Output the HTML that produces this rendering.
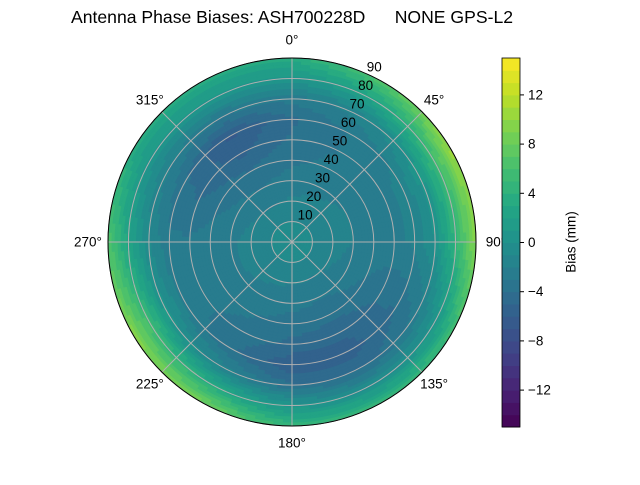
<!DOCTYPE html>
<html><head><meta charset="utf-8">
<style>
body{margin:0;background:#fff;}
svg text{font-family:"Liberation Sans","DejaVu Sans",sans-serif;fill:#000;}
</style></head>
<body>
<svg id="chart" width="640" height="480" xmlns="http://www.w3.org/2000/svg">
<rect width="640" height="480" fill="#fff"/>
<text x="292" y="23" font-size="17.6" text-anchor="middle" style="white-space:pre">Antenna Phase Biases: ASH700228D      NONE GPS-L2</text>
<g id="field"></g>
<g id="grid"></g>
<g id="labels"></g>
<g id="cbar"></g>
</svg>
<script>
const azimuths=[0,30,60,90,120,150,180,210,240,270,300,330];
const zeniths=[0,10,20,30,40,50,60,70,80,90];
const bias0=[-0.5,-0.5,-0.5,-0.5,-0.5,-0.5,-0.5,-0.5,-0.5,-0.5,-0.5,-0.5];
const bias10=[-1,-1,-1,-1,-1,-1,-1,-1,-1,-1,-1,-1];
const bias20=[-1.8,-1.7,-1.5,-1.5,-1.8,-2,-1.9,-1.8,-1.6,-1.6,-1.9,-2.1];
const bias30=[-2.6,-2.3,-2,-2,-2.5,-2.9,-2.7,-2.4,-2.2,-2.2,-2.7,-3];
const bias40=[-3.2,-2.7,-2.3,-2.3,-3.1,-3.7,-3.4,-2.9,-2.5,-2.5,-3.4,-3.9];
const bias50=[-3.8,-2.9,-2.3,-2.3,-3.8,-4.8,-4.3,-3.3,-2.8,-2.8,-4.3,-5.3];
const bias60=[-4.2,-2.8,-1.8,-1.8,-3.8,-5.3,-5.8,-3.8,-2.3,-2.8,-3.8,-6.3];
const bias70=[-2.7,-1.5,0.5,0,-2.5,-4.5,-4,-1.5,0.5,-1,-2,-3];
const bias80=[0.5,2.5,5.5,4.5,0.5,-0.5,0.5,3.5,5.5,2.5,0.5,0.5];
const bias90=[3.5,6.5,10.5,9.5,5.5,4.5,4.5,8.5,9.5,6.5,3.5,3.5];
const biasRows=[bias0,bias10,bias20,bias30,bias40,bias50,bias60,bias70,bias80,bias90];
const cbarTicks=[-12,-8,-4,0,4,8,12];
const ringTicks=[10,20,30,40,50,60,70,80,90];
const angleTicks=[0,45,90,135,180,225,270,315];

const NS="http://www.w3.org/2000/svg";
const cx=292,cy=242,R=184,vmin=-15,vmax=15;
const rScale=z=>z/90*R;
const px=(az,r)=>cx+r*Math.sin(az*Math.PI/180);
const py=(az,r)=>cy-r*Math.cos(az*Math.PI/180);
const vir=[[68,1,84],[72,35,116],[64,67,135],[52,94,141],[41,120,142],[32,144,140],[34,167,132],[68,190,112],[121,209,81],[189,222,38],[253,231,37]];
function color(v){let t=(v-vmin)/(vmax-vmin);t=Math.max(0,Math.min(1,t));const f=t*10,i=Math.min(9,Math.floor(f)),u=f-i;
const c=vir[i].map((a,k)=>Math.round(a+(vir[i+1][k]-a)*u));return `rgb(${c[0]},${c[1]},${c[2]})`;}
function sample(az,z){
  const zi=Math.min(zeniths.length-2,Math.floor(z/10)),zu=(z-zeniths[zi])/10;
  const a=((az%360)+360)%360,ai=Math.floor(a/30)%12,au=(a-ai*30)/30,aj=(ai+1)%12;
  const r0=biasRows[zi],r1=biasRows[zi+1];
  const v0=r0[ai]*(1-au)+r0[aj]*au, v1=r1[ai]*(1-au)+r1[aj]*au;
  return v0*(1-zu)+v1*zu;}
const field=document.getElementById('field');
const dz=1.5,da=3;
for(let z=0;z<90;z+=dz){for(let a=0;a<360;a+=da){
  const v=sample(a+da/2,z+dz/2);const lev=Math.floor(v)+0.5;
  const r0=rScale(z),r1=rScale(z+dz);
  const p=document.createElementNS(NS,'path');
  
  
  const d=`M${px(a,r0)},${py(a,r0)}L${px(a,r1)},${py(a,r1)}L${px(a+da,r1)},${py(a+da,r1)}L${px(a+da,r0)},${py(a+da,r0)}Z`;
  p.setAttribute('d',d);const c=color(lev);p.setAttribute('fill',c);p.setAttribute('stroke',c);p.setAttribute('stroke-width','0.8');
  field.appendChild(p);}}
const grid=document.getElementById('grid');
ringTicks.forEach(t=>{const c=document.createElementNS(NS,'circle');


c.setAttribute('cx',cx);c.setAttribute('cy',cy);c.setAttribute('r',rScale(t));c.setAttribute('fill','none');
c.setAttribute('stroke','#b0b0b0');c.setAttribute('stroke-width',1);grid.appendChild(c);});
angleTicks.forEach(a=>{const l=document.createElementNS(NS,'line');


l.setAttribute('x1',cx);l.setAttribute('y1',cy);l.setAttribute('x2',px(a,R));l.setAttribute('y2',py(a,R));
l.setAttribute('stroke','#b0b0b0');l.setAttribute('stroke-width',1);grid.appendChild(l);});
const outer=document.createElementNS(NS,'circle');


outer.setAttribute('cx',cx);outer.setAttribute('cy',cy);outer.setAttribute('r',R);outer.setAttribute('fill','none');outer.setAttribute('stroke','#000');grid.appendChild(outer);
const labels=document.getElementById('labels');
function txt(x,y,s,name,anchor){const t=document.createElementNS(NS,'text');


t.setAttribute('x',x);t.setAttribute('y',y);t.setAttribute('font-size','13.5');t.setAttribute('text-anchor',anchor||'middle');t.setAttribute('dominant-baseline','central');t.textContent=s;labels.appendChild(t);return t;}
angleTicks.forEach(a=>{const off=(a===90||a===270)?20:17;txt(px(a,R+off),py(a,R+off)+(a===0?-1:0),a+'°','angle-tick-label');});
ringTicks.forEach(t=>{const r=rScale(t)+6;txt(px(25,r)+2,py(25,r)-3,String(t),'radial-tick-label');});
const cb=document.getElementById('cbar');
const bx=502,bw=18,by0=58,by1=427;
const cyS=v=>by1-(v-vmin)/(vmax-vmin)*(by1-by0);
for(let v=vmin;v<vmax;v+=1){const r=document.createElementNS(NS,'rect');


r.setAttribute('x',bx);r.setAttribute('y',cyS(v+1));r.setAttribute('width',bw);r.setAttribute('height',cyS(v)-cyS(v+1)+0.5);r.setAttribute('fill',color(v+0.5));cb.appendChild(r);}
const fr=document.createElementNS(NS,'rect');


fr.setAttribute('x',bx);fr.setAttribute('y',by0);fr.setAttribute('width',bw);fr.setAttribute('height',by1-by0);fr.setAttribute('fill','none');fr.setAttribute('stroke','#000');fr.setAttribute('stroke-width',0.8);cb.appendChild(fr);
cbarTicks.forEach(v=>{const l=document.createElementNS(NS,'line');


l.setAttribute('x1',bx+bw);l.setAttribute('x2',bx+bw+4);l.setAttribute('y1',cyS(v));l.setAttribute('y2',cyS(v));l.setAttribute('stroke','#000');cb.appendChild(l);
txt(bx+bw+8,cyS(v),(v<0?'\u2212':'')+Math.abs(v),'colorbar-tick-label','start');});
const cl=txt(571,242,'Bias (mm)','colorbar-title');cl.setAttribute('transform','rotate(-90 571 242)');
</script>
</body></html>
